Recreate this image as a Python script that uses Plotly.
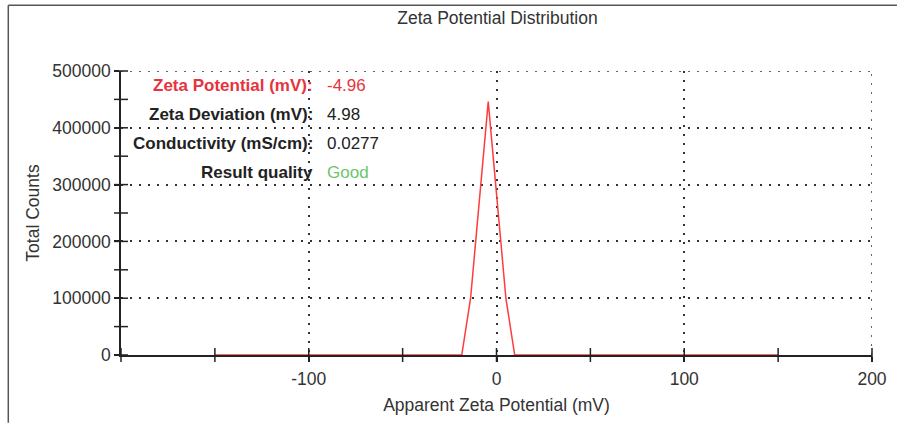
import plotly.graph_objects as go

# Zeta potential distribution (apparent zeta potential in mV vs total counts)
zeta_mv = [-150, -18.5, -13.8, -9.1, -4.4, 0.3, 5.0, 9.7, 150]
total_counts = [0, 0, 100000, 273000, 446000, 273000, 100000, 0, 0]

x_ticks = [-100, 0, 100, 200]
x_minor = [-150, -50, 50, 150]
y_ticks = [0, 100000, 200000, 300000, 400000, 500000]
y_minor = [50000, 150000, 250000, 350000, 450000]
X_MIN, X_MAX = -200, 200
Y_MIN, Y_MAX = 0, 500000

result_labels = ["Zeta Potential (mV):", "Zeta Deviation (mV):", "Conductivity (mS/cm):", "Result quality"]
result_values = ["-4.96", "4.98", "0.0277", "Good"]
result_colors = ["#e8323c", "#222222", "#222222", "#6cc46c"]
result_label_colors = ["#e8323c", "#222222", "#222222", "#222222"]
result_rows_y = [475000, 423000, 373000, 322000]

FONT = "Arial, Liberation Sans, sans-serif"
FS = 17.5
W, H = 899, 424
L, R, T, B = 121, 25, 71, 68
TICK = "#222222"
DASH = "2px,7px"

fig = go.Figure()
fig.add_trace(go.Scatter(
    x=zeta_mv, y=total_counts, mode="lines",
    line=dict(color="#ff3b3b", width=1.5),
    showlegend=False, hoverinfo="skip",
))

# tick marks that cross the axis lines
x_cross = [X_MIN] + x_ticks + x_minor
fig.add_trace(go.Scatter(
    x=x_cross, y=[Y_MIN] * len(x_cross), mode="markers", cliponaxis=False,
    marker=dict(symbol="line-ns-open", size=10, color=TICK, line=dict(color=TICK, width=1.5)),
    showlegend=False, hoverinfo="skip",
))
y_cross = y_ticks + y_minor
fig.add_trace(go.Scatter(
    x=[X_MIN] * len(y_cross), y=y_cross, mode="markers", cliponaxis=False,
    marker=dict(symbol="line-ew-open", size=10, color=TICK, line=dict(color=TICK, width=1.5)),
    showlegend=False, hoverinfo="skip",
))

grid = dict(showgrid=True, gridcolor="#333333", gridwidth=1.5, griddash=DASH)

fig.update_layout(
    width=W, height=H,
    margin=dict(l=L, r=R, t=T, b=B),
    paper_bgcolor="white", plot_bgcolor="white",
    font=dict(family=FONT, size=FS, color="#333333"),
    title=dict(text="Zeta Potential Distribution", x=(L + (W - L - R) / 2) / W, xanchor="center",
               y=1 - 18 / H, yanchor="middle", font=dict(size=FS, color="#333333")),
    xaxis=dict(
        range=[X_MIN, X_MAX], tickvals=x_ticks, ticktext=[str(v) for v in x_ticks],
        ticks="outside", ticklen=5, tickwidth=1.5, tickcolor=TICK, ticklabelstandoff=2,
        showline=True, linecolor=TICK, linewidth=1.5, zeroline=False,
        title=dict(text="Apparent Zeta Potential (mV)", standoff=11, font=dict(size=FS)),
        **grid,
    ),
    yaxis=dict(
        range=[Y_MIN, Y_MAX], tickvals=y_ticks, ticktext=[str(v) for v in y_ticks],
        ticks="outside", ticklen=5, tickwidth=1.5, tickcolor=TICK,
        showline=True, linecolor=TICK, linewidth=1.5, zeroline=False,
        title=dict(text="Total Counts", standoff=8, font=dict(size=FS)),
        **grid,
    ),
)

# outermost dotted grid lines (top and right edges of the plot area)
fig.add_shape(type="line", xref="paper", yref="y", x0=0, x1=1, y0=y_ticks[-1], y1=y_ticks[-1],
              line=dict(color="#333333", width=1.5, dash=DASH))
fig.add_shape(type="line", xref="x", yref="paper", x0=x_ticks[-1], x1=x_ticks[-1], y0=0, y1=1,
              line=dict(color="#333333", width=1.5, dash=DASH))

for lab, val, lc, vc, yy in zip(result_labels, result_values, result_label_colors, result_colors, result_rows_y):
    fig.add_annotation(x=-96.9, y=yy, xref="x", yref="y", text="<b>" + lab + "</b>", showarrow=False,
                       xanchor="right", yanchor="middle", font=dict(size=FS - 0.5, color=lc, family=FONT))
    fig.add_annotation(x=-91.6, y=yy, xref="x", yref="y", text=val, showarrow=False,
                       xanchor="left", yanchor="middle", font=dict(size=FS - 0.5, color=vc, family=FONT))

# frame around the chart (left and top edges)
pw, ph = W - L - R, H - T - B
x_left = (8 - L) / pw
y_top = (H - B - 5) / ph
fig.add_shape(type="line", xref="paper", yref="paper", x0=x_left, x1=x_left, y0=(H - B - H) / ph, y1=y_top,
              line=dict(color="#555555", width=1.5))
fig.add_shape(type="line", xref="paper", yref="paper", x0=x_left, x1=(W - L) / pw, y0=y_top, y1=y_top,
              line=dict(color="#555555", width=1.5))

fig.write_html("out.html")
